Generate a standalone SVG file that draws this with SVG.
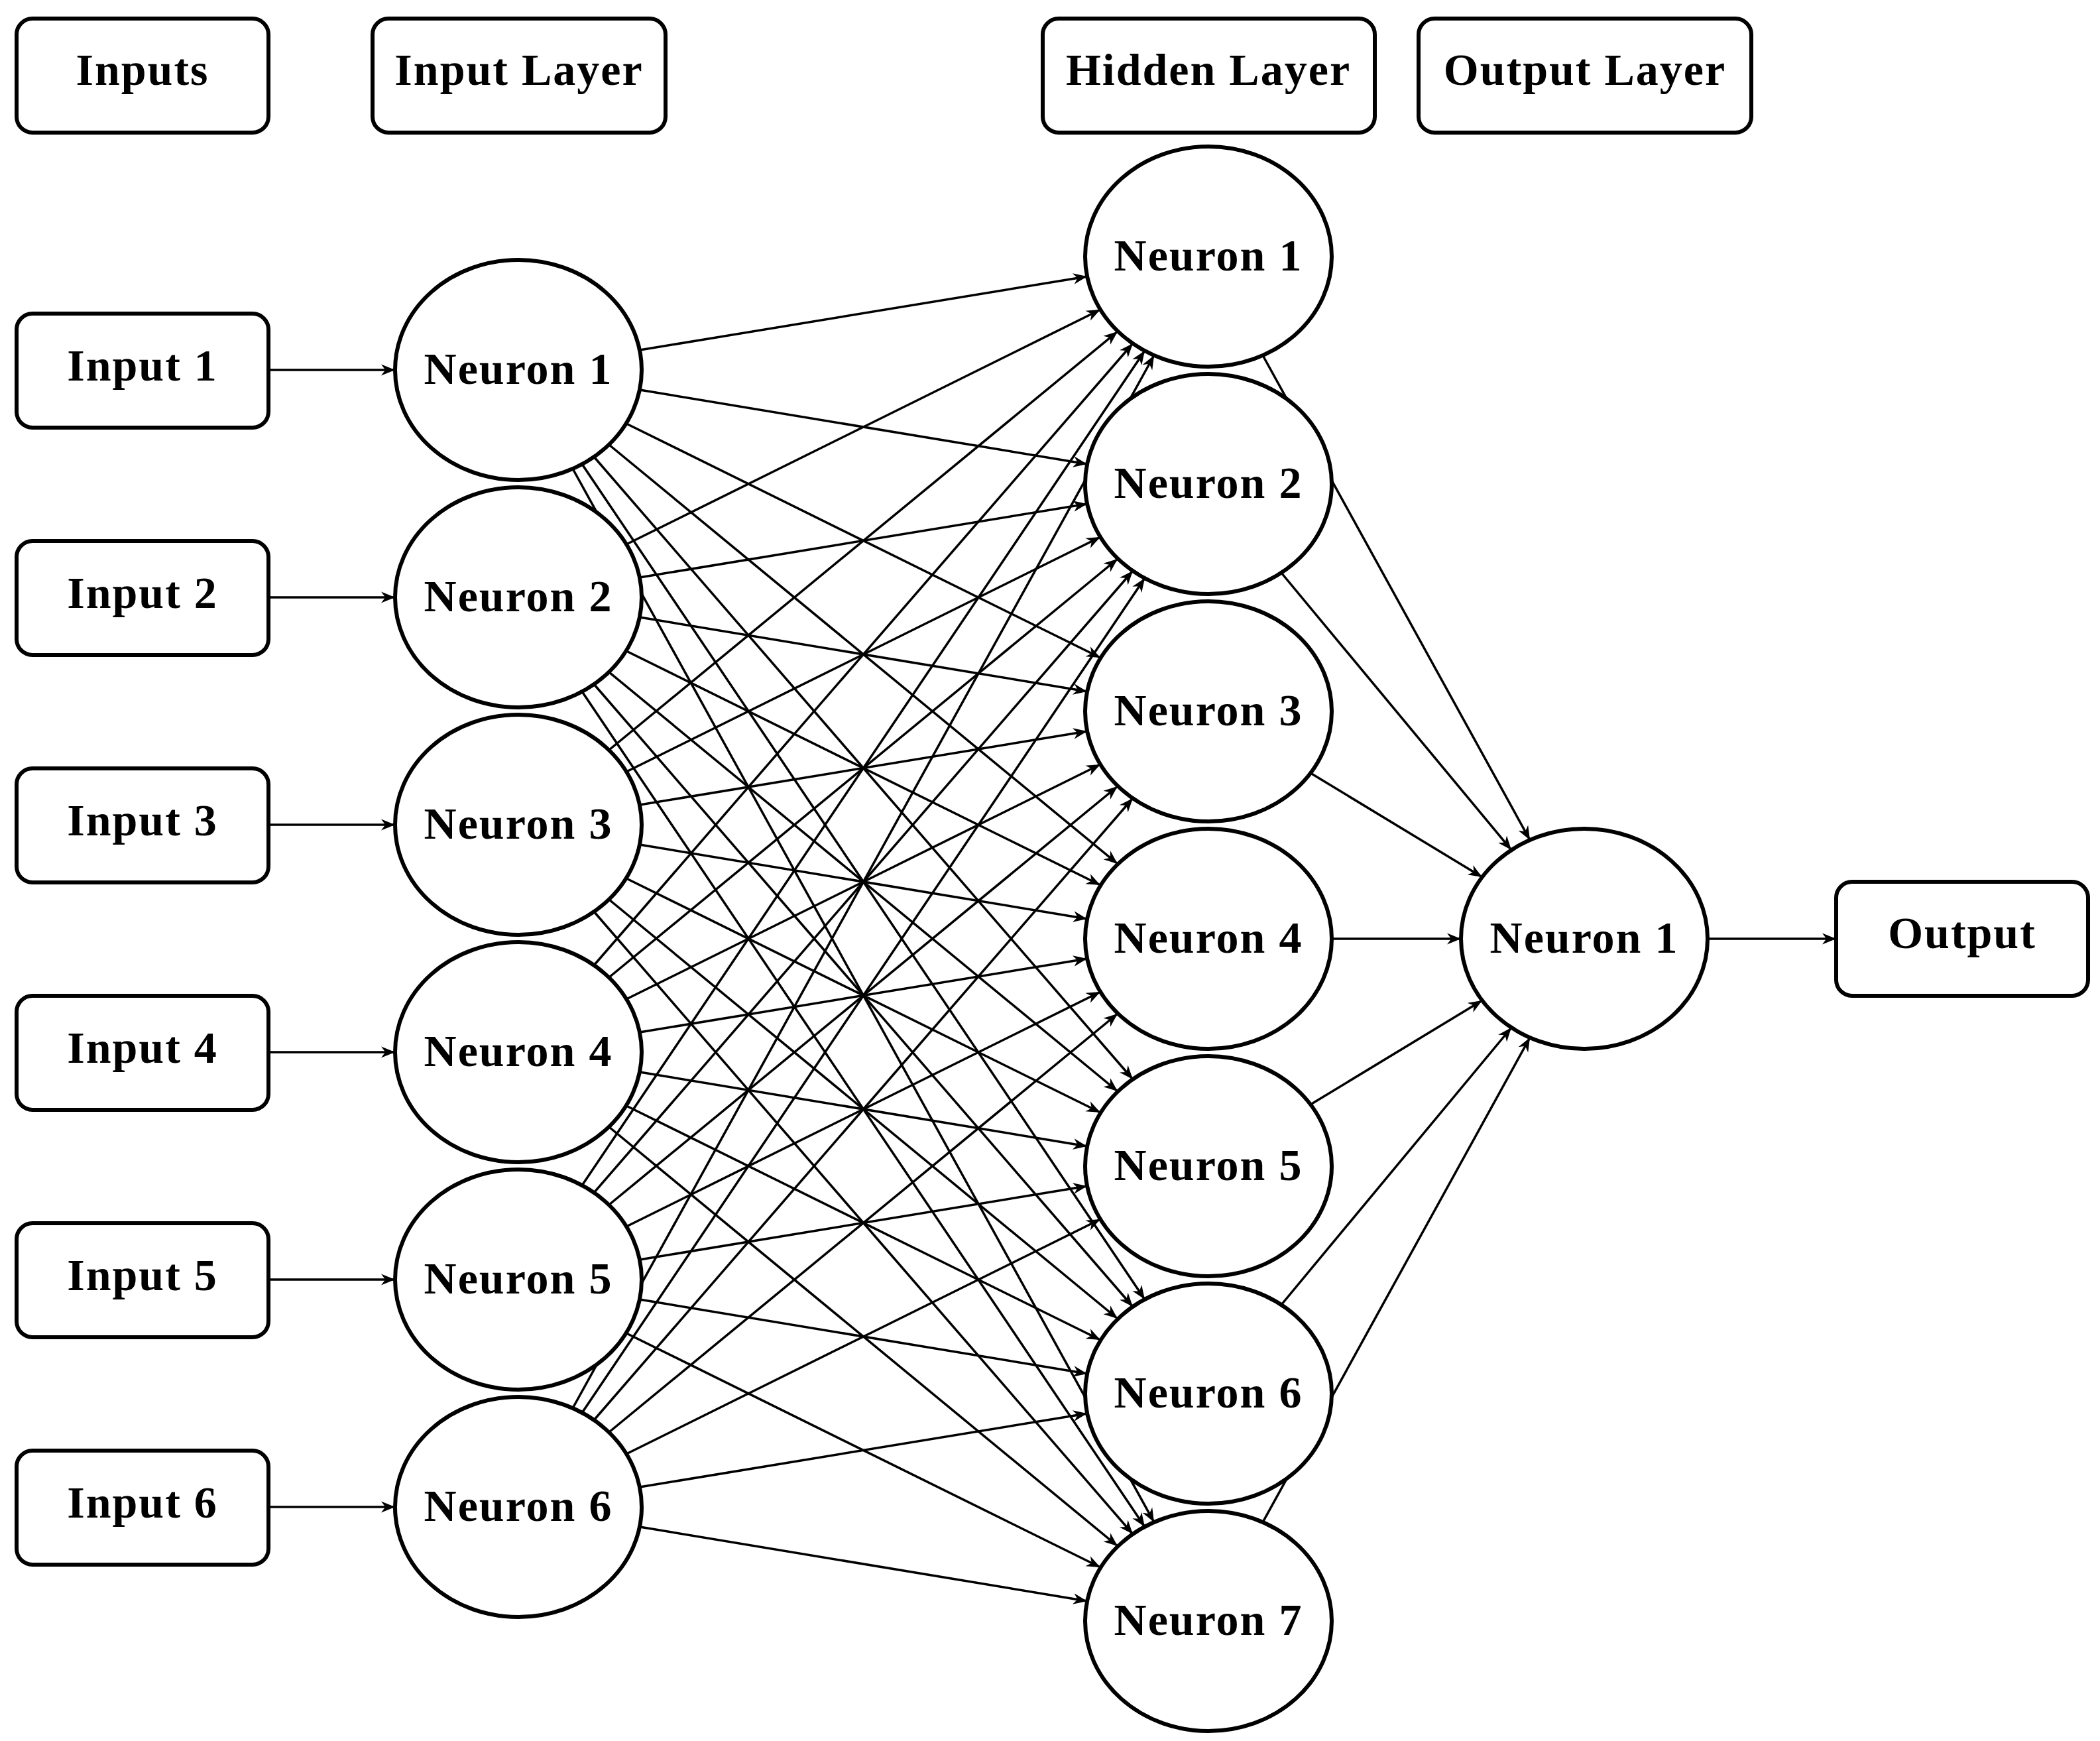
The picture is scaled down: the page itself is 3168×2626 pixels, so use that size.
<svg xmlns="http://www.w3.org/2000/svg" width="3168" height="2626" viewBox="0 0 3168 2626">
<style>
.box{fill:#fff;stroke:#000;stroke-width:6}
.neu{fill:#fff;stroke:#000;stroke-width:6}
.t{font-family:"Liberation Serif","DejaVu Serif",serif;font-weight:bold;font-size:68px;text-anchor:middle;fill:#000;letter-spacing:2px}
#edges line{stroke:#000;stroke-width:3.5;marker-end:url(#ah)}
</style>
<defs>
<marker id="ah" viewBox="0 0 10 10" refX="10" refY="5" markerWidth="6" markerHeight="6" orient="auto" markerUnits="strokeWidth">
<path d="M0,1 L10,5 L0,9 L3,5 Z" fill="#000"/>
</marker>
</defs>
<rect width="3168" height="2626" fill="#fff"/>
<g id="headers">
<g id="h-inputs"><rect class="box" x="25" y="28" width="380" height="172" rx="24"/><text class="t" x="215" y="128">Inputs</text></g>
<g id="h-inlayer"><rect class="box" x="562" y="28" width="442" height="172" rx="24"/><text class="t" x="783" y="128">Input Layer</text></g>
<g id="h-hidden"><rect class="box" x="1573" y="28" width="501" height="172" rx="24"/><text class="t" x="1823" y="128">Hidden Layer</text></g>
<g id="h-output"><rect class="box" x="2140" y="28" width="502" height="172" rx="24"/><text class="t" x="2391" y="128">Output Layer</text></g>
</g>
<g id="edges">
<line x1="405" y1="558" x2="596" y2="558"/>
<line x1="405" y1="901" x2="596" y2="901"/>
<line x1="405" y1="1244" x2="596" y2="1244"/>
<line x1="405" y1="1587" x2="596" y2="1587"/>
<line x1="405" y1="1930" x2="596" y2="1930"/>
<line x1="405" y1="2273" x2="596" y2="2273"/>
<line x1="965" y1="528" x2="1640" y2="417"/>
<line x1="965" y1="588" x2="1640" y2="700"/>
<line x1="945" y1="639" x2="1660" y2="992"/>
<line x1="919" y1="671" x2="1686" y2="1303"/>
<line x1="896" y1="689" x2="1709" y2="1628"/>
<line x1="878" y1="700" x2="1727" y2="1960"/>
<line x1="864" y1="707" x2="1741" y2="2296"/>
<line x1="945" y1="821" x2="1660" y2="467"/>
<line x1="965" y1="871" x2="1640" y2="760"/>
<line x1="965" y1="931" x2="1640" y2="1043"/>
<line x1="945" y1="982" x2="1660" y2="1335"/>
<line x1="919" y1="1014" x2="1686" y2="1646"/>
<line x1="896" y1="1032" x2="1709" y2="1971"/>
<line x1="878" y1="1043" x2="1727" y2="2303"/>
<line x1="919" y1="1131" x2="1686" y2="500"/>
<line x1="945" y1="1164" x2="1660" y2="810"/>
<line x1="965" y1="1214" x2="1640" y2="1103"/>
<line x1="965" y1="1274" x2="1640" y2="1386"/>
<line x1="945" y1="1325" x2="1660" y2="1678"/>
<line x1="919" y1="1357" x2="1686" y2="1989"/>
<line x1="896" y1="1375" x2="1709" y2="2314"/>
<line x1="896" y1="1456" x2="1709" y2="518"/>
<line x1="919" y1="1474" x2="1686" y2="843"/>
<line x1="945" y1="1507" x2="1660" y2="1153"/>
<line x1="965" y1="1557" x2="1640" y2="1446"/>
<line x1="965" y1="1617" x2="1640" y2="1729"/>
<line x1="945" y1="1668" x2="1660" y2="2021"/>
<line x1="919" y1="1700" x2="1686" y2="2332"/>
<line x1="878" y1="1788" x2="1727" y2="529"/>
<line x1="896" y1="1799" x2="1709" y2="861"/>
<line x1="919" y1="1817" x2="1686" y2="1186"/>
<line x1="945" y1="1850" x2="1660" y2="1496"/>
<line x1="965" y1="1900" x2="1640" y2="1789"/>
<line x1="965" y1="1960" x2="1640" y2="2072"/>
<line x1="945" y1="2011" x2="1660" y2="2364"/>
<line x1="864" y1="2124" x2="1741" y2="536"/>
<line x1="878" y1="2131" x2="1727" y2="872"/>
<line x1="896" y1="2142" x2="1709" y2="1204"/>
<line x1="919" y1="2160" x2="1686" y2="1529"/>
<line x1="945" y1="2193" x2="1660" y2="1839"/>
<line x1="965" y1="2243" x2="1640" y2="2132"/>
<line x1="965" y1="2303" x2="1640" y2="2415"/>
<line x1="1905" y1="536" x2="2308" y2="1267"/>
<line x1="1933" y1="864" x2="2280" y2="1282"/>
<line x1="1977" y1="1166" x2="2236" y2="1323"/>
<line x1="2009" y1="1416" x2="2204" y2="1416"/>
<line x1="1977" y1="1666" x2="2236" y2="1509"/>
<line x1="1933" y1="1968" x2="2280" y2="1550"/>
<line x1="1905" y1="2296" x2="2308" y2="1565"/>
<line x1="2576" y1="1416" x2="2770" y2="1416"/>
</g>
<g id="in1"><rect class="box" x="25" y="473" width="380" height="172" rx="24"/><text class="t" x="215" y="574">Input 1</text></g>
<g id="in2"><rect class="box" x="25" y="816" width="380" height="172" rx="24"/><text class="t" x="215" y="917">Input 2</text></g>
<g id="in3"><rect class="box" x="25" y="1159" width="380" height="172" rx="24"/><text class="t" x="215" y="1260">Input 3</text></g>
<g id="in4"><rect class="box" x="25" y="1502" width="380" height="172" rx="24"/><text class="t" x="215" y="1603">Input 4</text></g>
<g id="in5"><rect class="box" x="25" y="1845" width="380" height="172" rx="24"/><text class="t" x="215" y="1946">Input 5</text></g>
<g id="in6"><rect class="box" x="25" y="2188" width="380" height="172" rx="24"/><text class="t" x="215" y="2289">Input 6</text></g>
<g id="il1"><ellipse class="neu" cx="782" cy="558" rx="186" ry="166"/><text class="t" x="782" y="579">Neuron 1</text></g>
<g id="il2"><ellipse class="neu" cx="782" cy="901" rx="186" ry="166"/><text class="t" x="782" y="922">Neuron 2</text></g>
<g id="il3"><ellipse class="neu" cx="782" cy="1244" rx="186" ry="166"/><text class="t" x="782" y="1265">Neuron 3</text></g>
<g id="il4"><ellipse class="neu" cx="782" cy="1587" rx="186" ry="166"/><text class="t" x="782" y="1608">Neuron 4</text></g>
<g id="il5"><ellipse class="neu" cx="782" cy="1930" rx="186" ry="166"/><text class="t" x="782" y="1951">Neuron 5</text></g>
<g id="il6"><ellipse class="neu" cx="782" cy="2273" rx="186" ry="166"/><text class="t" x="782" y="2294">Neuron 6</text></g>
<g id="hl1"><ellipse class="neu" cx="1823" cy="387" rx="186" ry="166"/><text class="t" x="1823" y="408">Neuron 1</text></g>
<g id="hl2"><ellipse class="neu" cx="1823" cy="730" rx="186" ry="166"/><text class="t" x="1823" y="751">Neuron 2</text></g>
<g id="hl3"><ellipse class="neu" cx="1823" cy="1073" rx="186" ry="166"/><text class="t" x="1823" y="1094">Neuron 3</text></g>
<g id="hl4"><ellipse class="neu" cx="1823" cy="1416" rx="186" ry="166"/><text class="t" x="1823" y="1437">Neuron 4</text></g>
<g id="hl5"><ellipse class="neu" cx="1823" cy="1759" rx="186" ry="166"/><text class="t" x="1823" y="1780">Neuron 5</text></g>
<g id="hl6"><ellipse class="neu" cx="1823" cy="2102" rx="186" ry="166"/><text class="t" x="1823" y="2123">Neuron 6</text></g>
<g id="hl7"><ellipse class="neu" cx="1823" cy="2445" rx="186" ry="166"/><text class="t" x="1823" y="2466">Neuron 7</text></g>
<g id="ol1"><ellipse class="neu" cx="2390" cy="1416" rx="186" ry="166"/><text class="t" x="2390" y="1437">Neuron 1</text></g>
<g id="out"><rect class="box" x="2770" y="1330" width="380" height="172" rx="24"/><text class="t" x="2960" y="1430">Output</text></g>
</svg>
